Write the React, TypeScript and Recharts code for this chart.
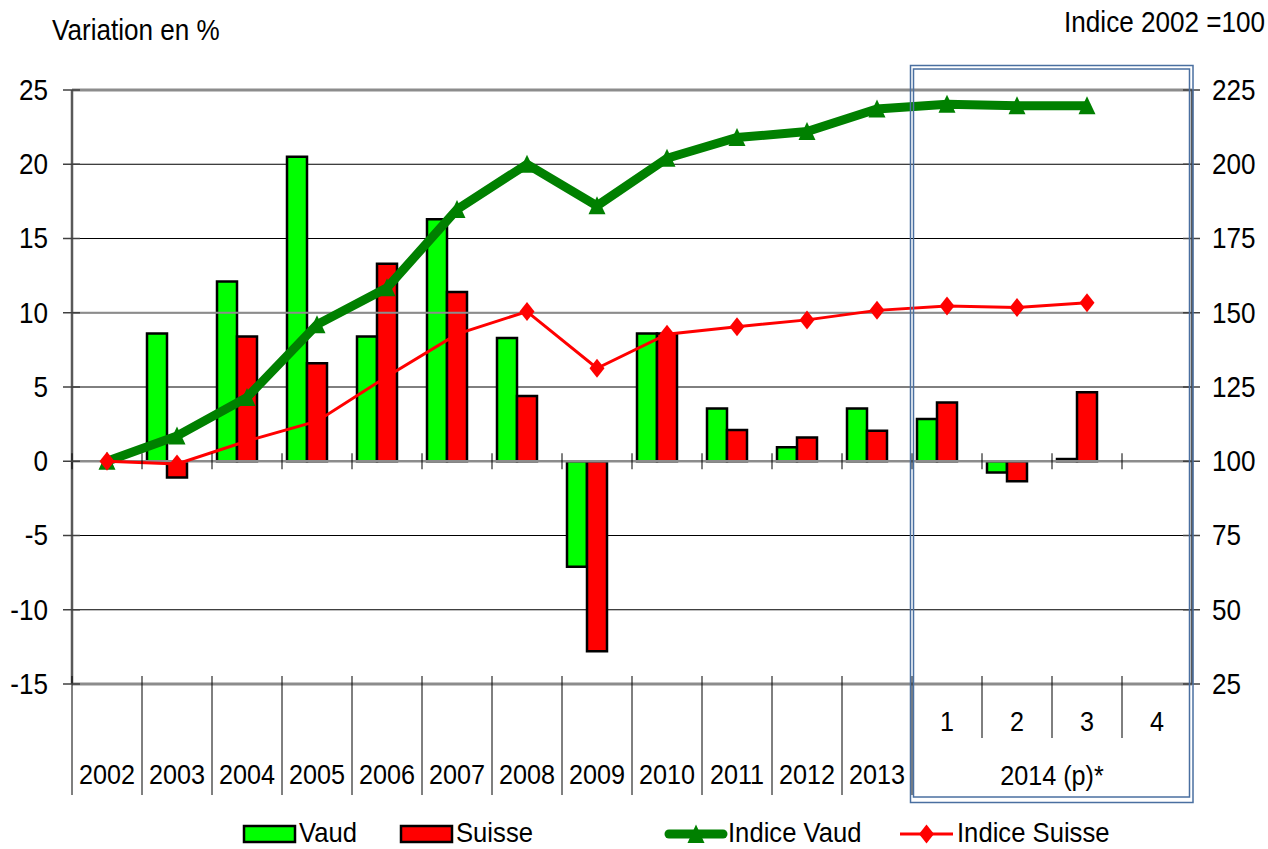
import React from 'react';
import { ComposedChart, Bar, Line, XAxis, YAxis, CartesianGrid, ReferenceLine, Legend } from 'recharts';

// ---------- data ----------
const categories = ['2002', '2003', '2004', '2005', '2006', '2007', '2008', '2009', '2010', '2011', '2012', '2013', '1', '2', '3', '4'];
const vaudVar = [null, 8.6, 12.1, 20.5, 8.4, 16.3, 8.3, -7.1, 8.6, 3.55, 0.95, 3.55, 2.85, -0.75, 0.15, null];
const suisseVar = [null, -1.1, 8.4, 6.6, 13.3, 11.4, 4.4, -12.8, 8.6, 2.1, 1.6, 2.05, 3.95, -1.35, 4.65, null];
const indiceVaud = [100, 108.5, 121.5, 146, 158.4, 184.8, 200, 186, 202, 209, 211, 218.6, 220.2, 219.7, 219.7, null];
const indiceSuisse = [100, 99.1, 106.8, 113.5, 128.5, 142.8, 150.4, 131.3, 142.8, 145.3, 147.6, 150.8, 152.3, 151.8, 153.4, null];
const leftTicks = [-15, -10, -5, 0, 5, 10, 15, 20, 25];
const rightTicks = [25, 50, 75, 100, 125, 150, 175, 200, 225];
const seriesNames = ['Vaud', 'Suisse', 'Indice Vaud', 'Indice Suisse'];
const quarterGroupLabel = '2014 (p)*';
const leftTitle = 'Variation en %';
const rightTitle = 'Indice 2002 =100';
const firstQuarterIndex = 12;

const data = categories.map((c, i) => ({
  cat: c,
  vaud: vaudVar[i],
  suisse: suisseVar[i],
  pad: null,
  iv: indiceVaud[i],
  is: indiceSuisse[i],
}));

// ---------- layout ----------
const W = 1268;
const H = 849;
const PL = 72;
const PR = 1192;
const PT = 90;
const PB = 684;
const LEG_H = 40;
const BAND = (PR - PL) / categories.length;
const LMIN = leftTicks[0];
const LMAX = leftTicks[leftTicks.length - 1];
const Y0 = PT + ((PB - PT) * LMAX) / (LMAX - LMIN);
const FONT = "'Liberation Sans', Arial, sans-serif";
const FS = 29;
const SX = 0.9;

const GREEN_BAR = '#00FF00';
const RED_BAR = '#FF0000';
const GREEN_LINE = '#008000';
const RED_LINE = '#FF0000';
const BOX = '#4A6FA0';
const GRAY = '#8C8C8C';

const Txt = ({ x, y, anchor = 'middle', size = FS, sx = SX, children }: any) => (
  <g transform={`translate(${x},${y}) scale(${sx},1)`}>
    <text x={0} y={0} textAnchor={anchor} dominantBaseline="central" fontSize={size} fontFamily={FONT} fill="#000">
      {children}
    </text>
  </g>
);

const LeftTick = (props: any) => {
  const { y, payload } = props;
  return (
    <g>
      <line x1={PL - 9} x2={PL + 8} y1={y} y2={y} stroke="#404040" strokeWidth={1.5} />
      <Txt x={48} y={y} anchor="end">{payload.value}</Txt>
    </g>
  );
};

const RightTick = (props: any) => {
  const { y, payload } = props;
  return (
    <g>
      <line x1={PR - 9} x2={PR + 8} y1={y} y2={y} stroke="#404040" strokeWidth={1.5} />
      <Txt x={1212} y={y} anchor="start">{payload.value}</Txt>
    </g>
  );
};

const XTick = (props: any) => {
  const { x, payload } = props;
  const i = categories.indexOf(payload.value);
  const left = x - BAND / 2;
  const isQuarter = i >= firstQuarterIndex;
  const els: any[] = [];
  els.push(<line key="z" x1={left} x2={left} y1={Y0 - 8} y2={Y0 + 8} stroke="#000" strokeWidth={1} />);
  if (!isQuarter) {
    els.push(<line key="s" x1={left} x2={left} y1={PB - 8} y2={795} stroke="#000" strokeWidth={1} />);
    if (i === firstQuarterIndex - 1) {
      els.push(<line key="s2" x1={x + BAND / 2} x2={x + BAND / 2} y1={PB - 8} y2={795} stroke="#000" strokeWidth={1} />);
    }
    els.push(<Txt key="t" x={x} y={775} size={28}>{payload.value}</Txt>);
  } else {
    if (i > firstQuarterIndex) {
      els.push(<line key="s" x1={left} x2={left} y1={PB - 8} y2={738} stroke="#000" strokeWidth={1} />);
    }
    els.push(<Txt key="t" x={x} y={722} size={28}>{payload.value}</Txt>);
    if (i === firstQuarterIndex + 2) {
      els.push(<Txt key="g" x={left} y={776} size={28}>{quarterGroupLabel}</Txt>);
    }
  }
  return <g>{els}</g>;
};

const TriDot = (props: any) => {
  const { cx, cy, value, index } = props;
  if (value == null || cy == null || isNaN(cy)) return <g key={`tv${index}`} />;
  return <path key={`tv${index}`} d={`M${cx},${cy - 9.5} L${cx + 8.5},${cy + 8.5} L${cx - 8.5},${cy + 8.5} Z`} fill={GREEN_LINE} />;
};

const DiaDot = (props: any) => {
  const { cx, cy, value, index } = props;
  if (value == null || cy == null || isNaN(cy)) return <g key={`ds${index}`} />;
  return <path key={`ds${index}`} d={`M${cx},${cy - 9.5} L${cx + 7.5},${cy} L${cx},${cy + 9.5} L${cx - 7.5},${cy} Z`} fill={RED_LINE} />;
};

// legend row centre, in legend-local coordinates (legend occupies the bottom LEG_H px)
const LC = LEG_H - 16;
const LFS = 27;
const LSX = 0.95;

const LegendContent = () => (
  <svg width={W} height={LEG_H} style={{ display: 'block' }}>
    <rect x={244} y={LC - 7} width={51} height={16} fill={GREEN_BAR} stroke="#000" strokeWidth={2.5} />
    <Txt x={299} y={LC} anchor="start" size={LFS} sx={LSX}>{seriesNames[0]}</Txt>
    <rect x={401} y={LC - 7} width={51} height={16} fill={RED_BAR} stroke="#000" strokeWidth={2.5} />
    <Txt x={456} y={LC} anchor="start" size={LFS} sx={LSX}>{seriesNames[1]}</Txt>
    <line x1={669} x2={723} y1={LC + 1} y2={LC + 1} stroke={GREEN_LINE} strokeWidth={9} strokeLinecap="round" />
    <path d={`M696,${LC - 8.5} L704.5,${LC + 10} L687.5,${LC + 10} Z`} fill={GREEN_LINE} />
    <Txt x={728} y={LC} anchor="start" size={LFS} sx={LSX}>{seriesNames[2]}</Txt>
    <line x1={900} x2={953} y1={LC + 1} y2={LC + 1} stroke={RED_LINE} strokeWidth={3} />
    <path d={`M926.5,${LC - 8.5} L934,${LC + 1} L926.5,${LC + 10.5} L919,${LC + 1} Z`} fill={RED_LINE} />
    <Txt x={957} y={LC} anchor="start" size={LFS} sx={LSX}>{seriesNames[3]}</Txt>
  </svg>
);

export default function App() {
  const boxLeft = PL + firstQuarterIndex * BAND;
  return (
    <div style={{ position: 'absolute', left: 0, top: 0, width: W, height: H, background: '#fff' }}>
      <ComposedChart
        width={W}
        height={H}
        data={data}
        margin={{ top: PT, right: 0, bottom: 0, left: 0 }}
        barCategoryGap={5}
        barGap={0}
      >
        <CartesianGrid vertical={false} stroke="#000" strokeWidth={1} />
        <XAxis dataKey="cat" height={H - PB - LEG_H} tickLine={false} axisLine={false} interval={0} tick={<XTick />} />
        <YAxis
          domain={[LMIN, LMAX]}
          ticks={leftTicks}
          width={PL}
          interval={0}
          allowDataOverflow
          tickLine={false}
          axisLine={{ stroke: '#595959', strokeWidth: 2.5 }}
          tick={<LeftTick />}
        />
        <YAxis
          yAxisId="r"
          orientation="right"
          domain={[rightTicks[0], rightTicks[rightTicks.length - 1]]}
          ticks={rightTicks}
          width={W - PR}
          interval={0}
          allowDataOverflow
          tickLine={false}
          axisLine={{ stroke: '#595959', strokeWidth: 2.5 }}
          tick={<RightTick />}
        />
        <ReferenceLine y={25} stroke={GRAY} strokeWidth={3} />
        <ReferenceLine y={10} stroke={GRAY} strokeWidth={2} />
        <ReferenceLine y={0} stroke={GRAY} strokeWidth={2.5} />
        <ReferenceLine y={-15} stroke={GRAY} strokeWidth={3} />
        <Bar dataKey="vaud" name={seriesNames[0]} fill={GREEN_BAR} stroke="#000" strokeWidth={2.5} isAnimationActive={false} />
        <Bar dataKey="suisse" name={seriesNames[1]} fill={RED_BAR} stroke="#000" strokeWidth={2.5} isAnimationActive={false} />
        <Bar dataKey="pad" legendType="none" fill="none" isAnimationActive={false} />
        <Line
          yAxisId="r"
          dataKey="iv"
          name={seriesNames[2]}
          stroke={GREEN_LINE}
          strokeWidth={9}
          dot={TriDot}
          activeDot={false}
          isAnimationActive={false}
        />
        <Line
          yAxisId="r"
          dataKey="is"
          name={seriesNames[3]}
          stroke={RED_LINE}
          strokeWidth={3}
          dot={DiaDot}
          activeDot={false}
          isAnimationActive={false}
        />
        <Legend verticalAlign="bottom" height={LEG_H} content={<LegendContent />} />
      </ComposedChart>
      <svg
        width={W}
        height={H}
        style={{ position: 'absolute', left: 0, top: 0, pointerEvents: 'none' }}
      >
        <Txt x={52} y={30} anchor="start">{leftTitle}</Txt>
        <Txt x={1265} y={22} anchor="end">{rightTitle}</Txt>
        <rect x={boxLeft - 1.5} y={65.5} width={PR + 1 - (boxLeft - 1.5)} height={737} fill="none" stroke={BOX} strokeWidth={1.5} />
        <rect x={boxLeft + 1.5} y={69} width={PR - 2.5 - (boxLeft + 1.5)} height={728} fill="none" stroke={BOX} strokeWidth={1.5} />
      </svg>
    </div>
  );
}
